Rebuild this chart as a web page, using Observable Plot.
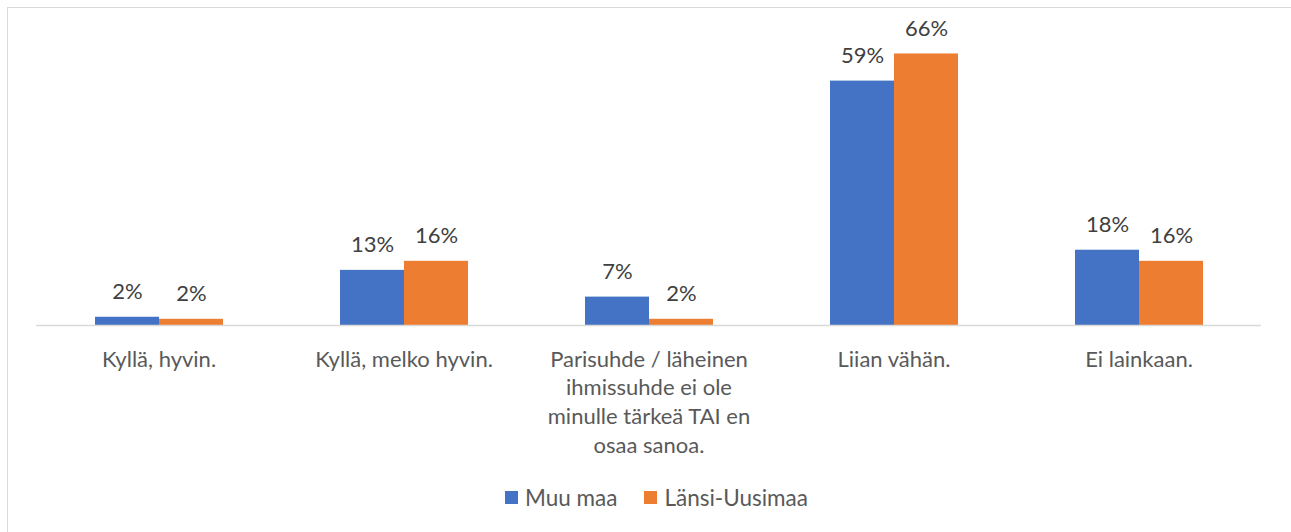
<!DOCTYPE html>
<html><head><meta charset="utf-8">
<script src="https://cdn.jsdelivr.net/npm/d3@7"></script>
<script src="https://cdn.jsdelivr.net/npm/@observablehq/plot@0.6"></script>
<style>
body{margin:0;background:#fff;font-family:Lato,"Open Sans",sans-serif;}
#frame{position:absolute;left:7px;top:7px;width:1400px;height:600px;border:1px solid #d9d9d9;box-sizing:border-box;}
#chart{position:absolute;left:0;top:0;}
#legend{position:absolute;left:505px;top:484px;display:flex;align-items:center;font-size:22.5px;color:#595959;white-space:nowrap;}
#legend .sw{display:inline-block;width:13px;height:13px;margin-right:7px;}
#legend .item{display:flex;align-items:center;margin-right:27px;}
</style></head>
<body>
<div id="frame"></div>
<div id="chart"></div>
<div id="legend"></div>
<script>
const categories = ["Kyllä, hyvin.", "Kyllä, melko hyvin.", "Parisuhde / läheinen ihmissuhde ei ole minulle tärkeä TAI en osaa sanoa.", "Liian vähän.", "Ei lainkaan."];
const tickLabels = ["Kyllä, hyvin.", "Kyllä, melko hyvin.", "Parisuhde / läheinen\nihmissuhde ei ole\nminulle tärkeä TAI en\nosaa sanoa.", "Liian vähän.", "Ei lainkaan."];
const series = ["Muu maa", "Länsi-Uusimaa"];
const colors = ["#4472C4", "#ED7D31"];
const muuMaa = [2.0, 13.4, 6.9, 59.4, 18.3];
const lansiUusimaa = [1.5, 15.6, 1.5, 66.0, 15.6];
const valueLabels = {"Muu maa": ["2%", "13%", "7%", "59%", "18%"], "Länsi-Uusimaa": ["2%", "16%", "2%", "66%", "16%"]};

const data = [];
categories.forEach((c, i) => {
  data.push({cat: c, series: series[0], value: muuMaa[i], label: valueLabels[series[0]][i]});
  data.push({cat: c, series: series[1], value: lansiUusimaa[i], label: valueLabels[series[1]][i]});
});

const chart = Plot.plot({
  width: 1291, height: 470,
  marginLeft: 36, marginRight: 30, marginTop: 37, marginBottom: 145,
  style: {fontFamily: "Lato, 'Open Sans', sans-serif", background: "transparent"},
  fx: {domain: categories, padding: 0, label: null},
  x: {domain: series, paddingInner: 0, paddingOuter: 0.914, axis: null},
  y: {domain: [0, 70], axis: null},
  color: {domain: series, range: colors},
  marks: [
    Plot.barY(data, {fx: "cat", x: "series", y: "value", fill: "series"}),
    Plot.ruleY([0], {stroke: "#d9d9d9", strokeWidth: 1.5}),
    Plot.text(data, {fx: "cat", x: "series", y: "value", text: "label", dy: -25, fontSize: 22, fill: "#404040"}),
    Plot.axisFx({anchor: "bottom", tickSize: 0, tickPadding: 21, label: null, fontSize: 22, lineHeight: 1.3, color: "#595959",
      tickFormat: c => tickLabels[categories.indexOf(c)]})
  ]
});
document.getElementById("chart").appendChild(chart);

const legend = document.getElementById("legend");
series.forEach((s, i) => {
  const item = document.createElement("span");
  item.className = "item";
  const sw = document.createElement("span");
  sw.className = "sw";
  sw.style.background = colors[i];
  item.appendChild(sw);
  item.appendChild(document.createTextNode(s));
  legend.appendChild(item);
});
</script>
</body></html>
